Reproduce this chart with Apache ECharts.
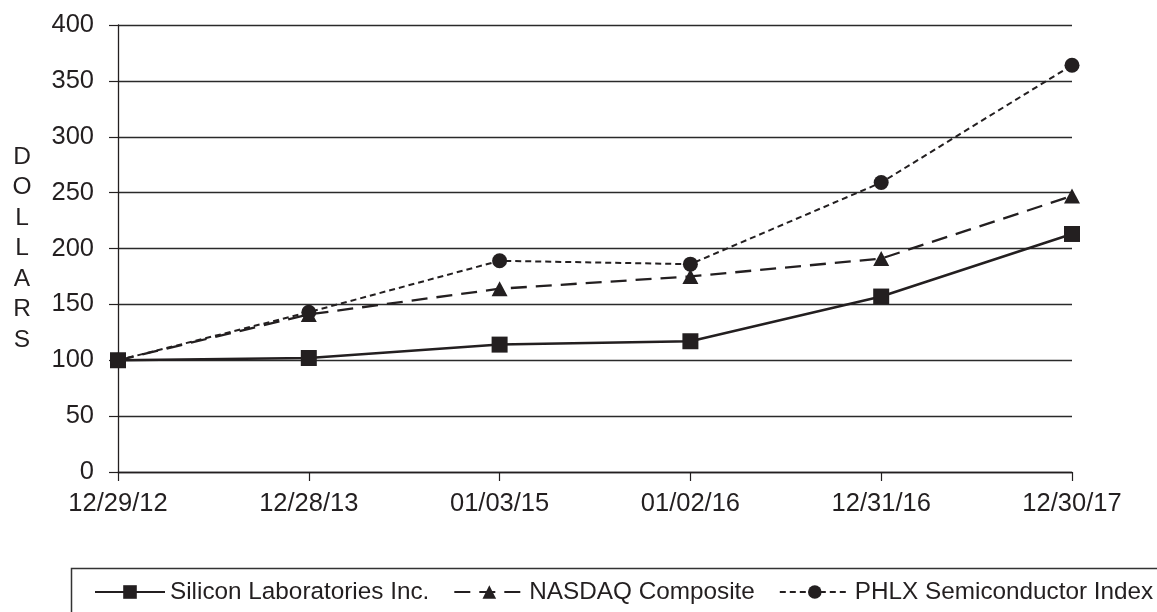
<!DOCTYPE html>
<html>
<head>
<meta charset="utf-8">
<script src="https://cdn.jsdelivr.net/npm/echarts@6/dist/echarts.min.js"></script>
<style>html,body{margin:0;padding:0;background:#fff;}#c{width:1157px;height:612px;}</style>
</head>
<body>
<div id="c"></div>
<script>
const categories = ['12/29/12', '12/28/13', '01/03/15', '01/02/16', '12/31/16', '12/30/17'];
const siliconLabs = [100, 102, 114, 117, 157, 213];
const nasdaq = [100, 141, 164, 175, 191, 247];
const phlx = [100, 143, 189, 186, 259, 364];
const yTicks = { min: 0, max: 400, interval: 50 };
const seriesNames = ['Silicon Laboratories Inc.', 'NASDAQ Composite', 'PHLX Semiconductor Index'];

const ink = '#231f20';
const font = 'Liberation Sans, Arial, Helvetica, sans-serif';
const chart = echarts.init(document.getElementById('c'), null, { renderer: 'canvas' });
chart.setOption({
  animation: false,
  backgroundColor: '#fff',
  grid: { left: 118, right: 85, top: 25, bottom: 140, containLabel: false },
  xAxis: {
    type: 'category',
    data: categories,
    boundaryGap: false,
    axisLine: { lineStyle: { color: ink, width: 1.3 } },
    axisTick: { alignWithLabel: true, length: 9, lineStyle: { color: ink, width: 1.2 } },
    axisLabel: { color: ink, fontSize: 25.5, fontFamily: font, margin: 19 },
    splitLine: { show: false }
  },
  yAxis: {
    type: 'value',
    min: yTicks.min, max: yTicks.max, interval: yTicks.interval,
    name: 'D\nO\nL\nL\nA\nR\nS',
    nameLocation: 'middle',
    nameRotate: 0,
    nameGap: 96,
    nameTextStyle: { color: ink, fontSize: 24.5, fontFamily: font, lineHeight: 30.5, align: 'center' },
    axisLine: { show: true, lineStyle: { color: ink, width: 1.3 } },
    axisTick: { show: true, length: 9, lineStyle: { color: ink, width: 1.2 } },
    axisLabel: { color: ink, fontSize: 25.5, fontFamily: font, margin: 24 },
    splitLine: { show: true, lineStyle: { color: '#2a2a2a', width: 1.3 } }
  },
  legend: {
    left: 89,
    top: 575,
    width: 1100,
    itemWidth: 70,
    itemHeight: 17,
    itemGap: 24,
    textStyle: { color: ink, fontSize: 24.3, fontFamily: font },
    data: seriesNames
  },
  graphic: [{
    type: 'rect',
    shape: { x: 71.5, y: 568.5, width: 1120, height: 80 },
    style: { fill: 'none', stroke: '#333', lineWidth: 1.5 },
    silent: true,
    z: -1
  }],
  series: [
    {
      name: seriesNames[0], type: 'line', data: siliconLabs,
      symbol: 'rect', symbolSize: 16,
      lineStyle: { color: ink, width: 2.5, type: 'solid' },
      itemStyle: { color: ink }
    },
    {
      name: seriesNames[1], type: 'line', data: nasdaq,
      symbol: 'triangle', symbolSize: [16, 15],
      lineStyle: { color: ink, width: 2.3, type: [16, 9] },
      itemStyle: { color: ink }
    },
    {
      name: seriesNames[2], type: 'line', data: phlx,
      symbol: 'circle', symbolSize: 15,
      lineStyle: { color: ink, width: 2, type: [6, 4] },
      itemStyle: { color: ink }
    }
  ]
});
</script>
</body>
</html>
